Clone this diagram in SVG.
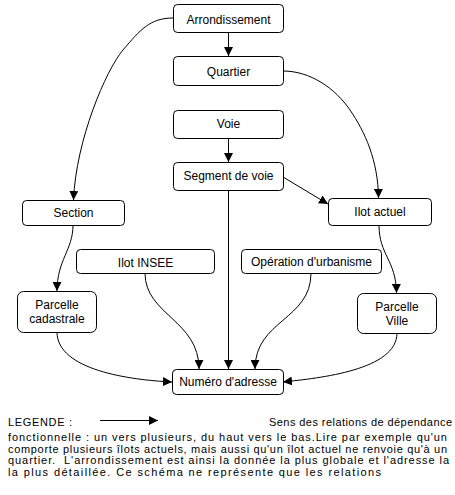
<svg xmlns="http://www.w3.org/2000/svg" width="455" height="495" viewBox="0 0 455 495">
<style>
.box{fill:#fff;stroke:#000;stroke-width:1}
.t{font-family:"Liberation Sans",Arial,sans-serif;font-size:12px;fill:#000;text-anchor:middle}
.l{font-family:"Liberation Sans",Arial,sans-serif;font-size:11px;fill:#000}
.c{fill:none;stroke:#000;stroke-width:1}
</style>
<defs>
<marker id="a" viewBox="0 0 10 10" refX="10" refY="5" markerWidth="9" markerHeight="9" markerUnits="userSpaceOnUse" orient="auto">
<path d="M0,0 L10,5 L0,10 Z" fill="#000"/>
</marker>
</defs>
<rect width="455" height="495" fill="#fff"/>
<g id="connectors">
<path class="c" d="M228.5,32 L228.5,56" marker-end="url(#a)"/>
<path class="c" d="M228.5,138 L228.5,162" marker-end="url(#a)"/>
<path class="c" d="M228.5,190 L228.5,369" marker-end="url(#a)"/>
<path class="c" d="M173,18 C150,18 140,30 123,50 S76,140 73.5,200" marker-end="url(#a)"/>
<path class="c" d="M283,71 C310,71 335,88 350,110 S378,160 378.5,198" marker-end="url(#a)"/>
<path class="c" d="M283,177 L328,204" marker-end="url(#a)"/>
<path class="c" d="M73,225 C73,250 57,260 57,291" marker-end="url(#a)"/>
<path class="c" d="M145,273 C145,315 199,320 199,369" marker-end="url(#a)"/>
<path class="c" d="M57,332 C57,370 130,380 172,382" marker-end="url(#a)"/>
<path class="c" d="M311,273 C311,320 255,320 255,369" marker-end="url(#a)"/>
<path class="c" d="M379,225 C379,255 396,260 396.5,293" marker-end="url(#a)"/>
<path class="c" d="M397,333 C397,370 320,378 283,382" marker-end="url(#a)"/>
<path class="c" d="M100,420.5 L158,420.5" marker-end="url(#a)"/>
</g>
<g id="arrondissement"><rect class="box" x="173.5" y="4.5" width="110" height="28" rx="4"/><text class="t" x="228.5" y="24">Arrondissement</text></g>
<g id="quartier"><rect class="box" x="173.5" y="56.5" width="110" height="29" rx="4"/><text class="t" x="228.5" y="76">Quartier</text></g>
<g id="voie"><rect class="box" x="173.5" y="110.5" width="110" height="28" rx="4"/><text class="t" x="228.5" y="128">Voie</text></g>
<g id="segment"><rect class="box" x="173.5" y="162.5" width="110" height="28" rx="4"/><text class="t" x="228.5" y="180">Segment de voie</text></g>
<g id="section"><rect class="box" x="22.5" y="200.5" width="102" height="25" rx="4"/><text class="t" x="73.5" y="217">Section</text></g>
<g id="ilotinsee"><rect class="box" x="76.5" y="249.5" width="138" height="24" rx="4"/><text class="t" x="145.5" y="267">Ilot INSEE</text></g>
<g id="ilotactuel"><rect class="box" x="328.5" y="198.5" width="103" height="27" rx="4"/><text class="t" x="380" y="216">Ilot actuel</text></g>
<g id="operation"><rect class="box" x="241.5" y="249.5" width="140" height="24" rx="4"/><text class="t" x="311.5" y="266">Opération d'urbanisme</text></g>
<g id="parcellecad"><rect class="box" x="17.5" y="291.5" width="79" height="41" rx="6"/><text class="t" x="57" y="309">Parcelle</text><text class="t" x="57" y="323">cadastrale</text></g>
<g id="parcelleville"><rect class="box" x="357.5" y="293.5" width="79" height="40" rx="6"/><text class="t" x="397" y="311">Parcelle</text><text class="t" x="397" y="325">Ville</text></g>
<g id="numero"><rect class="box" x="172.5" y="369.5" width="111" height="25" rx="4"/><text class="t" x="228" y="386">Numéro d'adresse</text></g>
<g id="legend">
<text class="l" x="8" y="426" textLength="64" lengthAdjust="spacing">LEGENDE :</text>
<text class="l" x="269" y="426" textLength="183" lengthAdjust="spacing">Sens des relations de dépendance</text>
<text class="l" x="8" y="441" textLength="439" lengthAdjust="spacing">fonctionnelle : un vers plusieurs, du haut vers le bas.Lire par exemple qu'un</text>
<text class="l" x="8" y="452.5" textLength="439" lengthAdjust="spacing">comporte plusieurs îlots actuels, mais aussi qu'un îlot actuel ne renvoie qu'à un</text>
<text class="l" x="8" y="464" textLength="441" lengthAdjust="spacing" xml:space="preserve">quartier.  L'arrondissement est ainsi la donnée la plus globale et l'adresse la</text>
<text class="l" x="8" y="475.5" textLength="373" lengthAdjust="spacing">la plus détaillée. Ce schéma ne représente que les relations</text>
</g>
</svg>
